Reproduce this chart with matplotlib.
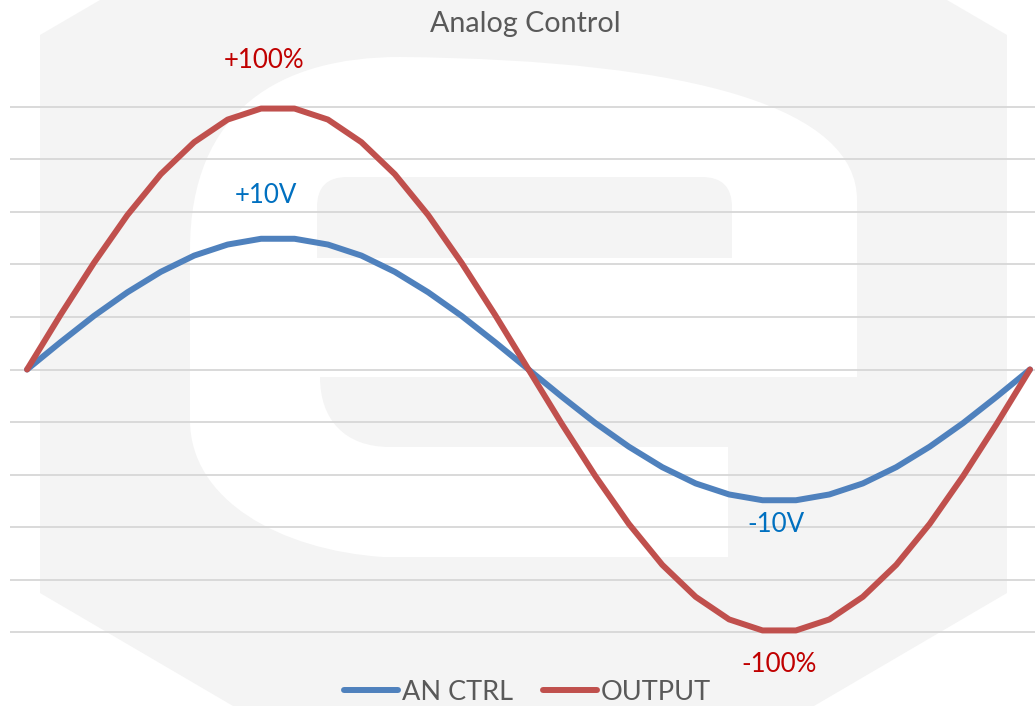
import matplotlib
matplotlib.use("Agg")
import matplotlib.pyplot as plt
from matplotlib.path import Path
from matplotlib.patches import PathPatch, Polygon, FancyBboxPatch, Rectangle
from matplotlib.lines import Line2D

plt.rcParams['font.family'] = ['Lato', 'DejaVu Sans']

# data (31 samples, one period)
steps = list(range(31))
an_ctrl = [0.00, 0.52, 1.02, 1.47, 1.86, 2.17, 2.38, 2.49, 2.49, 2.38, 2.17,
           1.86, 1.47, 1.02, 0.52, 0.00, -0.52, -1.02, -1.47, -1.86, -2.17,
           -2.38, -2.49, -2.49, -2.38, -2.17, -1.86, -1.47, -1.02, -0.52, 0.00]
output = [0.00, 1.04, 2.03, 2.94, 3.72, 4.33, 4.76, 4.97, 4.97, 4.76, 4.33,
          3.72, 2.94, 2.03, 1.04, 0.00, -1.04, -2.03, -2.94, -3.72, -4.33,
          -4.76, -4.97, -4.97, -4.76, -4.33, -3.72, -2.94, -2.03, -1.04, 0.00]
series_names = ['AN CTRL', 'OUTPUT']
labels = ['+100%', '+10V', '-10V', '-100%']

W, H = 1035, 706
blue = '#4f81bd'
red = '#c0504d'
wm = '#f4f4f4'

fig = plt.figure(figsize=(W / 100, H / 100), dpi=100)

# faint logo watermark behind the chart (pixel coords, y down)
bg = fig.add_axes([0, 0, 1, 1])
bg.set_xlim(0, W)
bg.set_ylim(H, 0)
bg.axis('off')
bg.add_patch(Polygon([(40, 35), (100, 0), (947, 0), (1007, 35), (1007, 593),
                      (814, 706), (233, 706), (40, 593)], closed=True,
                     fc=wm, ec='none'))
blob = Path([(190, 420), (190, 250), (190, 110), (280, 57), (400, 57),
             (700, 60), (857, 110), (857, 200), (857, 557), (383, 557),
             (280, 550), (190, 500), (190, 420), (190, 420)],
            [Path.MOVETO, Path.LINETO, Path.CURVE4, Path.CURVE4, Path.CURVE4,
             Path.CURVE4, Path.CURVE4, Path.CURVE4, Path.LINETO, Path.LINETO,
             Path.CURVE4, Path.CURVE4, Path.CURVE4, Path.CLOSEPOLY])
bg.add_patch(PathPatch(blob, fc='white', ec='none'))
bg.add_patch(FancyBboxPatch((317, 177), 415, 111, boxstyle='round,pad=0,rounding_size=30',
                            fc=wm, ec='none'))
bg.add_patch(Rectangle((317, 258), 415, 119, fc='white', ec='none'))
opening = Path([(320, 377), (857, 377), (857, 557), (728, 557), (728, 447),
                (390, 447), (345, 447), (320, 420), (320, 377), (320, 377)],
               [Path.MOVETO, Path.LINETO, Path.LINETO, Path.LINETO, Path.LINETO,
                Path.LINETO, Path.CURVE4, Path.CURVE4, Path.CURVE4, Path.CLOSEPOLY])
bg.add_patch(PathPatch(opening, fc=wm, ec='none'))

# chart area
ax = fig.add_axes([10 / W, 1 - 640 / H, (W - 10) / W, 540 / H])
ax.set_facecolor('none')
ax.set_xlim(-0.51, 30.15)
ax.set_ylim(-5.152, 5.133)
for s in ax.spines.values():
    s.set_visible(False)
ax.set_xticks([])
ax.set_yticks(range(-5, 6))
ax.tick_params(left=False, labelleft=False)
ax.grid(axis='y', color='#d9d9d9', linewidth=1.4)
ax.set_axisbelow(True)

ax.plot(steps, an_ctrl, color=blue, lw=4.3, solid_capstyle='round',
        solid_joinstyle='round', label=series_names[0])
ax.plot(steps, output, color=red, lw=4.3, solid_capstyle='round',
        solid_joinstyle='round', label=series_names[1])

ax.text(7.1, 5.75, labels[0], color='#c00000', fontsize=18.6, ha='center', va='baseline')
ax.text(7.15, 3.18, labels[1], color='#0070c0', fontsize=18.6, ha='center', va='baseline')
ax.text(22.4, -3.10, labels[2], color='#0070c0', fontsize=18.6, ha='center', va='baseline')
ax.text(22.5, -5.77, labels[3], color='#c00000', fontsize=18.6, ha='center', va='baseline')

fig.text(525 / W, 1 - 32.4 / H, 'Analog Control', color='#595959', fontsize=20.6,
         ha='center', va='baseline')

handles = [Line2D([], [], color=blue, lw=4.3, solid_capstyle='round'),
           Line2D([], [], color=red, lw=4.3, solid_capstyle='round')]
leg = fig.legend(handles, series_names, loc='center', bbox_to_anchor=(527.5 / W, 1 - 692 / H),
                 ncol=2, frameon=False, fontsize=19.5, handlelength=2.0, handletextpad=0.15,
                 columnspacing=1.1, borderpad=0, borderaxespad=0)
for t in leg.get_texts():
    t.set_color('#595959')

fig.savefig('out.png', dpi=100)
